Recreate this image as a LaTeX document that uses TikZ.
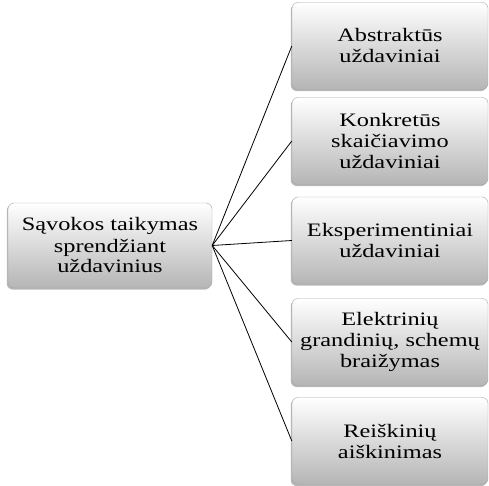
\documentclass[tikz,border=0pt]{standalone}
\usepackage{fontspec}
\setmainfont{Liberation Serif}[FakeStretch=1.28]
\usepackage{tikz}
\usetikzlibrary{shadows}

\tikzset{
  idea/.style={draw=gray!70,line width=0.4pt,rounded corners=6pt,
    top color=white,bottom color=gray!58,align=center,
    font=\fontsize{19}{21}\selectfont,inner sep=2pt,
    drop shadow={shadow xshift=-1.2pt,shadow yshift=-1.6pt,fill=gray!70,opacity=0.8}},
  main/.style={idea,minimum width=204pt,minimum height=85pt},
  sub/.style={idea,minimum width=196pt,minimum height=87pt},
  link/.style={black,line width=0.8pt}
}

\begin{document}
\begin{tikzpicture}[x=1pt,y=-1pt]
\useasboundingbox (0,0) rectangle (489,486);

% Define coordinates (box centres)
\coordinate (sav) at (110,245.5);
\coordinate (abs) at (390,46);
\coordinate (kon) at (390,141);
\coordinate (eks) at (390,240.5);
\coordinate (ele) at (390,342);
\coordinate (rei) at (390,441);

% Draw boxes
\node[main] (savoka) at (sav) {Sąvokos taikymas\\ sprendžiant\\ uždavinius};
\node[sub] (abstr) at (abs) {Abstraktūs\\ uždaviniai};
\node[sub] (konkr) at (kon) {Konkretūs\\ skaičiavimo\\ uždaviniai};
\node[sub] (eksp) at (eks) {Eksperimentiniai\\ uždaviniai};
\node[sub] (elektr) at (ele) {Elektrinių\\ grandinių, schemų\\ braižymas};
\node[sub] (reisk) at (rei) {Reiškinių\\ aiškinimas};

% Draw connecting lines
\draw[link] (savoka.east) -- (abstr.west);
\draw[link] (savoka.east) -- (konkr.west);
\draw[link] (savoka.east) -- (eksp.west);
\draw[link] (savoka.east) -- (elektr.west);
\draw[link] (savoka.east) -- (reisk.west);

\end{tikzpicture}
\end{document}
